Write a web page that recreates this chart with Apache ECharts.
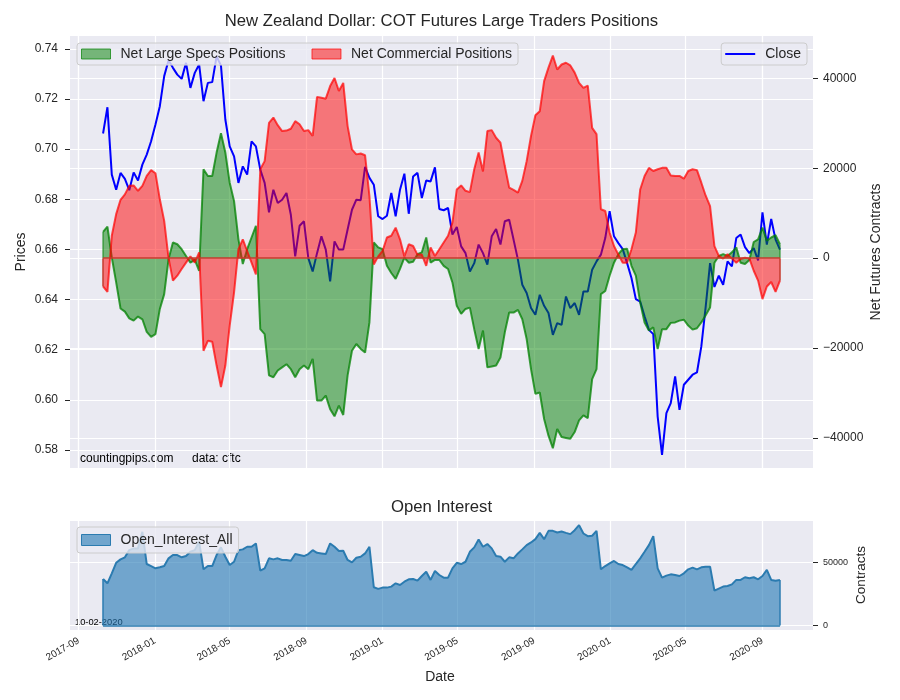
<!DOCTYPE html>
<html>
<head>
<meta charset="utf-8">
<script src="https://cdn.jsdelivr.net/npm/echarts@6/dist/echarts.min.js"></script>
<style>
html,body{margin:0;padding:0;background:#ffffff;}
#main{width:900px;height:700px;}
</style>
</head>
<body>
<div id="main"></div>
<script>
// ---- data (weekly COT reports, first report 2017-10-10) ----
const START_DATE = '2017-10-10';
const CLOSE = [
 0.7062,0.7167,0.6898,0.6838,0.6905,0.6881,0.6836,0.6907,0.6875,0.6938,
 0.6978,0.7031,0.7098,0.7171,0.7291,0.7354,0.7324,0.7297,0.7280,0.7344,
 0.7244,0.7304,0.7337,0.7191,0.7264,0.7267,0.7370,0.7333,0.7118,0.7011,
 0.6971,0.6865,0.6931,0.6898,0.7031,0.7011,0.6918,0.6865,0.6748,0.6838,
 0.6785,0.6798,0.6825,0.6738,0.6572,0.6694,0.6712,0.6565,0.6512,0.6585,
 0.6652,0.6599,0.6472,0.6632,0.6599,0.6599,0.6679,0.6758,0.6798,0.6796,
 0.6929,0.6885,0.6858,0.6732,0.6721,0.6734,0.6825,0.6732,0.6838,0.6902,
 0.6742,0.6891,0.6905,0.6805,0.6875,0.6871,0.6927,0.6761,0.6756,0.6765,
 0.6659,0.6689,0.6612,0.6585,0.6512,0.6545,0.6619,0.6585,0.6539,0.6652,
 0.6681,0.6619,0.6712,0.6718,0.6639,0.6559,0.6459,0.6426,0.6366,0.6339,
 0.6419,0.6375,0.6346,0.6259,0.6306,0.6299,0.6412,0.6366,0.6386,0.6339,
 0.6432,0.6432,0.6519,0.6552,0.6579,0.6645,0.6752,0.6652,0.6625,0.6601,
 0.6545,0.6486,0.6402,0.6392,0.6333,0.6279,0.6262,0.5933,0.5780,0.5947,
 0.5987,0.6093,0.5960,0.6060,0.6080,0.6100,0.6109,0.6213,0.6372,0.6545,
 0.6450,0.6495,0.6459,0.6552,0.6532,0.6645,0.6659,0.6609,0.6585,0.6605,
 0.6556,0.6748,0.6619,0.6721,0.6639,0.6599
];
const SPECS = [
 5850,7040,150,-5400,-11200,-11900,-13400,-13900,-13000,-13600,
 -16400,-17500,-16900,-11300,-8000,-200,3500,3100,2000,500,
 -1000,-400,-2800,19800,18300,18300,23500,27800,23500,16800,
 12700,4200,-1300,2000,4600,7200,-15800,-16900,-26100,-26500,
 -25000,-24300,-23600,-24700,-26500,-24700,-23900,-24700,-22400,-31700,
 -31700,-30600,-33600,-35200,-32800,-34900,-26100,-20600,-19100,-20200,
 -21000,-14300,3500,2400,2000,-1700,-3300,-4600,-2400,100,
 -1000,-800,900,1300,4600,-1000,-400,-400,-1700,-2400,
 -5400,-10600,-12400,-11300,-11000,-15800,-20200,-16100,-24300,-24100,
 -23900,-22100,-16500,-12100,-12100,-11500,-13600,-18000,-24700,-30200,
 -29900,-35800,-39500,-42300,-38000,-39800,-40000,-40200,-38700,-36100,
 -35000,-35600,-26900,-24700,-8000,-7300,-3900,-1000,900,2000,
 2100,-1700,-3900,-9900,-14300,-16100,-15400,-20200,-15800,-15800,
 -14400,-14300,-13900,-13700,-15000,-15900,-15600,-14300,-12700,-11000,
 -1000,500,900,500,1300,2400,-1000,-1300,-400,3600,
 4200,6800,3900,4600,5100,3100
];
const COMM = [
 -6300,-7500,5000,9800,13000,14200,16100,16200,15000,16100,
 18300,19600,18900,13100,8300,0,-5000,-3900,-2400,-1000,
 400,-1000,1300,-20600,-18400,-18600,-23900,-28700,-23900,-15000,
 -7600,2000,4200,1600,-1000,-3600,19800,21600,30100,31300,
 29600,28300,28400,28800,30500,29800,28300,28500,27200,35900,
 35700,35500,38300,40100,37200,39000,29400,24200,23100,23300,
 22900,13800,-1400,400,1600,4600,5000,6800,4200,400,
 3100,2700,800,800,-1700,2400,500,2000,3500,5000,
 7900,15300,16200,15000,14700,19800,23500,19300,28300,28500,
 26800,25700,20500,15700,15200,14600,17200,21600,27200,31800,
 32700,39400,42400,45100,42000,43100,43500,42900,41300,39000,
 37900,38400,29000,27600,10900,10500,5700,2700,800,-1000,
 -1000,2000,5700,15300,18300,20100,19400,19800,20100,20100,
 18400,18300,18300,17700,19400,19800,19600,16800,13900,11600,
 2700,500,-100,900,-100,-1000,-200,100,-100,-2800,
 -5000,-9100,-6300,-5300,-7500,-5000
];
const OPEN_INTEREST = [
 36800,33400,41300,49700,52400,54000,59700,61100,61100,74200,
 48700,47100,45300,46100,47100,53200,55800,55800,54000,55000,
 58400,59700,66300,44500,47100,47100,55800,61900,54500,47900,
 50500,59700,60300,62400,62400,65000,43400,45300,53200,52400,
 53200,51900,51900,51300,56600,55800,55000,56600,59700,57600,
 57100,56600,65000,62400,59000,59200,51900,50000,53700,54500,
 57100,62400,30300,29000,30000,30000,30800,33400,32100,34700,
 36600,36800,35500,39200,42600,36100,43200,40000,37900,37900,
 45300,49700,48700,50500,58400,61900,68200,62400,64500,61100,
 55000,54500,50500,54000,53200,57100,60300,63700,65800,68400,
 73400,68400,75000,75000,73700,74500,73400,72400,75500,79500,
 72900,70800,71100,75000,44500,47100,49200,51100,48700,47900,
 46100,44000,48700,53200,58400,63700,70800,45300,37900,39500,
 40500,40000,39200,41300,44500,45800,44500,46100,46600,46600,
 27600,29200,30800,31300,32600,36100,36100,38200,37400,38200,
 36600,39200,44000,36100,35500,36100
];
const X_TICKS = ['2017-09-01','2018-01-01','2018-05-01','2018-09-01','2019-01-01',
                 '2019-05-01','2019-09-01','2020-01-01','2020-05-01','2020-09-01'];
const PRICE_TICKS = [0.58,0.60,0.62,0.64,0.66,0.68,0.70,0.72,0.74];
const NET_TICKS = [-40000,-20000,0,20000,40000];
const OI_TICKS = [0,50000];

// ---- build ----
const N = CLOSE.length;
const DATES = [];
(function(){
  const p = START_DATE.split('-').map(Number);
  const t0 = Date.UTC(p[0], p[1]-1, p[2]);
  for (let i = 0; i < N; i++) {
    DATES.push(new Date(t0 + i*7*86400000).toISOString().slice(0,10));
  }
})();
const pair = arr => DATES.map((d,i) => [d, arr[i]]);
const FIRST = DATES[0], LAST = DATES[N-1];

const FONT = "'Liberation Sans', Arial, Helvetica, sans-serif";
const TXT = '#262626';
const BG = '#eaeaf2';
const minus = v => String(v).replace('-', '\u2212');
const X_MIN = +new Date(2017,7,18), X_MAX = +new Date(2020,10,21);

const chart = echarts.init(document.getElementById('main'), null, {renderer:'canvas'});

const gridLine = {show:true, lineStyle:{color:'#ffffff', width:1.2}};
const legendBox = {
  backgroundColor:'rgba(234,234,242,0.8)', borderColor:'#cccccc', borderWidth:1, borderRadius:3,
  textStyle:{fontFamily:FONT, fontSize:14, color:TXT, padding:[0,0,0,5]}
};

function edgeLines(arr, color){
  return {
    silent:true, symbol:'none', animation:false,
    label:{show:false},
    lineStyle:{color:color, width:1.5, type:'solid'},
    data:[
      [{coord:[FIRST,0]},{coord:[FIRST,arr[0]]}],
      [{coord:[LAST,0]},{coord:[LAST,arr[N-1]]}]
    ]
  };
}

const option = {
  backgroundColor:'#ffffff',
  animation:false,
  textStyle:{fontFamily:FONT},
  grid:[
    {left:70, top:36, width:743, height:432, show:true, backgroundColor:BG, borderWidth:0},
    {left:70, top:521, width:743, height:109, show:true, backgroundColor:BG, borderWidth:0}
  ],
  legend:[
    Object.assign({}, legendBox, {
      left:77, top:43, orient:'horizontal', padding:[4,6,4,4],
      itemWidth:29, itemHeight:10, itemGap:26,
      data:[
        {name:'Net Large Specs Positions', icon:'rect', itemStyle:{color:'rgba(0,128,0,0.5)', borderColor:'rgba(0,128,0,0.7)', borderWidth:1}},
        {name:'Net Commercial Positions', icon:'rect', itemStyle:{color:'rgba(255,0,0,0.5)', borderColor:'rgba(255,0,0,0.7)', borderWidth:1}}
      ]
    }),
    Object.assign({}, legendBox, {
      right:93, top:43, padding:[4,6,4,4],
      itemWidth:30, itemHeight:2, itemGap:10,
      data:[{name:'Close', icon:'rect', itemStyle:{color:'#0000ff', borderWidth:0}}]
    }),
    Object.assign({}, legendBox, {
      left:77, top:527, padding:[6,6,6,4],
      itemWidth:29, itemHeight:11, itemGap:10,
      data:[{name:'Open_Interest_All', icon:'rect', itemStyle:{color:'rgba(31,119,180,0.6)', borderColor:'#2b7bb0', borderWidth:1}}]
    })
  ],
  xAxis:[
    {type:'time', gridIndex:0, min:X_MIN, max:X_MAX,
     axisLine:{show:false}, axisTick:{show:false, customValues:X_TICKS},
     axisLabel:{show:false, customValues:X_TICKS}, splitLine:gridLine},
    {type:'time', gridIndex:1, min:X_MIN, max:X_MAX,
     axisLine:{show:false}, axisTick:{show:false, customValues:X_TICKS},
     axisLabel:{show:true, customValues:X_TICKS, rotate:30, formatter:'{yyyy}-{MM}',
                fontFamily:FONT, fontSize:10, color:TXT, margin:10},
     splitLine:gridLine}
  ],
  yAxis:[
    {type:'value', gridIndex:0, position:'left', min:0.5728, max:0.7451,
     axisLine:{show:false},
     axisTick:{show:true, length:5, customValues:PRICE_TICKS, lineStyle:{color:TXT, width:1}},
     axisLabel:{customValues:PRICE_TICKS, formatter:v=>Number(v).toFixed(2), fontFamily:FONT, fontSize:12, color:TXT, margin:12},
     splitLine:gridLine},
    {type:'value', gridIndex:0, position:'right', min:-46700, max:49450,
     axisLine:{show:false},
     axisTick:{show:true, length:5, customValues:NET_TICKS, lineStyle:{color:TXT, width:1}},
     axisLabel:{customValues:NET_TICKS, formatter:minus, fontFamily:FONT, fontSize:12, color:TXT, margin:10},
     splitLine:gridLine},
    {type:'value', gridIndex:1, position:'right', min:-3600, max:82800,
     axisLine:{show:false},
     axisTick:{show:true, length:5, customValues:OI_TICKS, lineStyle:{color:TXT, width:1}},
     axisLabel:{customValues:OI_TICKS, formatter:minus, fontFamily:FONT, fontSize:9, color:TXT, margin:10},
     splitLine:gridLine}
  ],
  series:[
    {name:'Close', type:'line', xAxisIndex:0, yAxisIndex:0, data:pair(CLOSE),
     symbol:'none', showSymbol:false, z:2,
     lineStyle:{color:'#0000ff', width:2}, itemStyle:{color:'#0000ff'}},
    {name:'Net Large Specs Positions', type:'line', xAxisIndex:0, yAxisIndex:1, data:pair(SPECS),
     symbol:'none', showSymbol:false, z:3,
     lineStyle:{color:'rgba(0,128,0,0.75)', width:2},
     itemStyle:{color:'rgba(0,128,0,0.5)'},
     areaStyle:{color:'rgba(0,128,0,0.5)', opacity:1},
     markLine:edgeLines(SPECS,'rgba(0,128,0,0.6)')},
    {name:'Net Commercial Positions', type:'line', xAxisIndex:0, yAxisIndex:1, data:pair(COMM),
     symbol:'none', showSymbol:false, z:4,
     lineStyle:{color:'rgba(255,0,0,0.7)', width:2},
     itemStyle:{color:'rgba(255,0,0,0.5)'},
     areaStyle:{color:'rgba(255,0,0,0.5)', opacity:1},
     markLine:{
       silent:true, symbol:'none', label:{show:false},
       lineStyle:{color:'#c63a2c', width:1.5, type:'solid'},
       data:[
         [{coord:[FIRST,0]},{coord:[LAST,0]}],
         [{coord:[FIRST,0]},{coord:[FIRST,COMM[0]]}],
         [{coord:[LAST,0]},{coord:[LAST,COMM[N-1]]}]
       ]
     }},
    {name:'Open_Interest_All', type:'line', xAxisIndex:1, yAxisIndex:2, data:pair(OPEN_INTEREST),
     symbol:'none', showSymbol:false, z:3,
     lineStyle:{color:'#2b7bb0', width:2},
     itemStyle:{color:'rgba(31,119,180,0.6)'},
     areaStyle:{color:'rgba(31,119,180,0.6)', opacity:1},
     markLine:{
       silent:true, symbol:'none', label:{show:false},
       lineStyle:{color:'#2b7bb0', width:1.5, type:'solid'},
       data:[
         [{coord:[FIRST,0]},{coord:[LAST,0]}],
         [{coord:[FIRST,0]},{coord:[FIRST,OPEN_INTEREST[0]]}],
         [{coord:[LAST,0]},{coord:[LAST,OPEN_INTEREST[N-1]]}]
       ]
     }}
  ],
  graphic:[
    {type:'text', x:441.5, y:21, silent:true,
     style:{text:'New Zealand Dollar: COT Futures Large Traders Positions', fill:TXT,
            font:'16.7px '+FONT, textAlign:'center', textVerticalAlign:'middle'}},
    {type:'text', x:441.5, y:507, silent:true,
     style:{text:'Open Interest', fill:TXT, font:'16.7px '+FONT, textAlign:'center', textVerticalAlign:'middle'}},
    {type:'text', x:21, y:252, rotation:Math.PI/2, silent:true,
     style:{text:'Prices', fill:TXT, font:'14px '+FONT, textAlign:'center', textVerticalAlign:'middle'}},
    {type:'text', x:876, y:252, rotation:Math.PI/2, silent:true,
     style:{text:'Net Futures Contracts', fill:TXT, font:'14px '+FONT, textAlign:'center', textVerticalAlign:'middle'}},
    {type:'text', x:861, y:575, rotation:Math.PI/2, silent:true,
     style:{text:'Contracts', fill:TXT, font:'13.5px '+FONT, textAlign:'center', textVerticalAlign:'middle'}},
    {type:'text', x:440, y:677, silent:true,
     style:{text:'Date', fill:TXT, font:'14px '+FONT, textAlign:'center', textVerticalAlign:'middle'}},
    {type:'text', x:80, y:459, silent:true,
     style:{text:'countingpips.com', fill:'#000000', font:'12px '+FONT, textAlign:'left', textVerticalAlign:'middle'}},
    {type:'text', x:192, y:459, silent:true,
     style:{text:'data: cftc', fill:'#000000', font:'12px '+FONT, textAlign:'left', textVerticalAlign:'middle'}},
    {type:'text', x:75, y:622, silent:true,
     style:{text:'10-02-2020', fill:'#000000', font:'9.3px '+FONT, textAlign:'left', textVerticalAlign:'middle'}}
  ]
};
chart.setOption(option);
</script>
</body>
</html>
